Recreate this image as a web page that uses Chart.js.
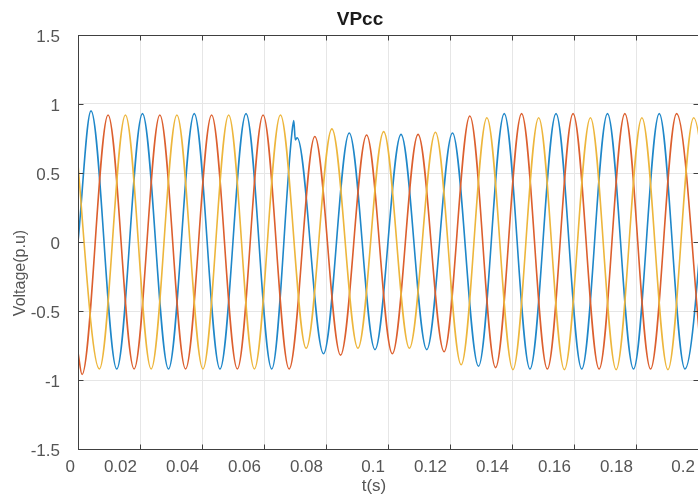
<!DOCTYPE html>
<html>
<head>
<meta charset="utf-8">
<script src="https://cdn.jsdelivr.net/npm/chart.js@4.4.1/dist/chart.umd.min.js"></script>
<style>
  html, body { margin: 0; padding: 0; background: #fff; overflow: hidden; }
  #wrap { width: 706px; height: 495px; }
</style>
</head>
<body>
<div id="wrap"><canvas id="vpcc" width="706" height="495"></canvas></div>
<script>
// axis ticks
const xTicks = [0, 0.02, 0.04, 0.06, 0.08, 0.1, 0.12, 0.14, 0.16, 0.18, 0.2];
const xTickLabels = ['0', '0.02', '0.04', '0.06', '0.08', '0.1', '0.12', '0.14', '0.16', '0.18', '0.2'];
const yTicks = [-1.5, -1, -0.5, 0, 0.5, 1, 1.5];
const yTickLabels = ['-1.5', '-1', '-0.5', '0', '0.5', '1', '1.5'];

// phase a (blue): start, peaks/troughs, spike at the fault
const tA = [0, 0.0042, 0.0125, 0.0208, 0.0292, 0.0375, 0.0458, 0.0542, 0.0625, 0.0690, 0.0696, 0.0701, 0.0707,
  0.0792, 0.0875, 0.0958, 0.1042, 0.1125, 0.1208, 0.1292, 0.1375, 0.1458, 0.1542, 0.1625, 0.1708,
  0.1792, 0.1875, 0.1958, 0.2042];
const vA = [0, 0.95, -0.92, 0.93, -0.92, 0.93, -0.92, 0.93, -0.92, 0.79, 0.88, 0.74, 0.755,
  -0.81, 0.79, -0.78, 0.78, -0.78, 0.79, -0.90, 0.93, -0.92, 0.93, -0.92, 0.93,
  -0.92, 0.93, -0.92, 0.93];

// phase b (orange)
const tB = [0, 0.0013, 0.0097, 0.0181, 0.0264, 0.0347, 0.0431, 0.0514, 0.0597, 0.0681, 0.0764, 0.0847,
  0.0931, 0.1014, 0.1097, 0.1181, 0.1264, 0.1347, 0.1431, 0.1514, 0.1597, 0.1681, 0.1764, 0.1847,
  0.1931, 0.2014];
const vB = [-0.80, -0.96, 0.92, -0.92, 0.92, -0.92, 0.92, -0.92, 0.92, -0.92, 0.765, -0.82,
  0.775, -0.81, 0.78, -0.795, 0.913, -0.91, 0.93, -0.92, 0.93, -0.92, 0.93, -0.92,
  0.93, -0.92];

// phase c (yellow)
const tC = [-0.0014, 0.0069, 0.0153, 0.0236, 0.0319, 0.0403, 0.0486, 0.0569, 0.0653, 0.0736, 0.0819,
  0.0903, 0.0986, 0.1069, 0.1153, 0.1236, 0.1319, 0.1403, 0.1486, 0.1569, 0.1653, 0.1736, 0.1819,
  0.1903, 0.1986, 0.2069];
const vC = [0.92, -0.92, 0.92, -0.92, 0.92, -0.92, 0.92, -0.92, 0.92, -0.77, 0.82,
  -0.77, 0.80, -0.77, 0.795, -0.89, 0.90, -0.925, 0.90, -0.925, 0.90, -0.925, 0.90,
  -0.925, 0.90, -0.925];

const toPoints = (ts, vs) => ts.map((t, i) => ({ x: t, y: vs[i] }));

const FONT = '"Liberation Sans", Arial, sans-serif';

// box, inward tick marks and the three text labels
const framePlugin = {
  id: 'frame',
  afterDraw(chart) {
    const { ctx, chartArea: a, scales } = chart;
    const L = Math.round(a.left) + 0.5, R = Math.round(a.right) + 0.5;
    const T = Math.round(a.top) + 0.5, B = Math.round(a.bottom) + 0.5;
    ctx.save();
    ctx.strokeStyle = '#404040';
    ctx.lineWidth = 1;
    ctx.strokeRect(L, T, R - L, B - T);
    ctx.beginPath();
    xTicks.forEach(v => {
      const x = Math.round(scales.x.getPixelForValue(v)) + 0.5;
      ctx.moveTo(x, B); ctx.lineTo(x, B - 5);
      ctx.moveTo(x, T); ctx.lineTo(x, T + 5);
    });
    yTicks.forEach(v => {
      const y = Math.round(scales.y.getPixelForValue(v)) + 0.5;
      ctx.moveTo(L, y); ctx.lineTo(L + 5, y);
      ctx.moveTo(R, y); ctx.lineTo(R - 5, y);
    });
    ctx.stroke();

    ctx.textAlign = 'center';
    ctx.textBaseline = 'middle';
    ctx.fillStyle = '#1a1a1a';
    ctx.font = 'bold 19px ' + FONT;
    ctx.fillText('VPcc', 360, 20);

    ctx.fillStyle = '#555';
    ctx.font = '17px ' + FONT;
    ctx.fillText('t(s)', 374, 486);

    ctx.translate(21, 273);
    ctx.rotate(-Math.PI / 2);
    ctx.font = '16px ' + FONT;
    ctx.fillText('Voltage(p.u)', 0, 0);
    ctx.restore();
  }
};

new Chart(document.getElementById('vpcc'), {
  type: 'line',
  data: {
    datasets: [
      { label: 'Va', data: toPoints(tA, vA), borderColor: '#1f87c9', order: 3 },
      { label: 'Vb', data: toPoints(tB, vB), borderColor: '#dc5f2e', order: 2 },
      { label: 'Vc', data: toPoints(tC, vC), borderColor: '#edb63c', order: 1 }
    ]
  },
  options: {
    responsive: false,
    animation: false,
    parsing: false,
    layout: { padding: { top: 35, right: 5, left: 0, bottom: 0 } },
    elements: {
      point: { radius: 0 },
      line: { borderWidth: 1.6, cubicInterpolationMode: 'monotone', fill: false }
    },
    plugins: {
      legend: { display: false },
      tooltip: { enabled: false },
      title: { display: false }
    },
    scales: {
      x: {
        type: 'linear',
        min: 0,
        max: 0.2,
        afterBuildTicks: axis => { axis.ticks = xTicks.map(v => ({ value: v })); },
        afterFit: axis => { axis.height = 46; },
        grid: { color: '#e6e6e6', drawTicks: false },
        border: { display: false },
        ticks: {
          align: 'end',
          labelOffset: -3,
          padding: 8,
          maxRotation: 0,
          autoSkip: false,
          color: '#555',
          font: { family: FONT, size: 17 },
          callback: (v, i) => xTickLabels[i]
        }
      },
      y: {
        type: 'linear',
        min: -1.5,
        max: 1.5,
        afterBuildTicks: axis => { axis.ticks = yTicks.map(v => ({ value: v })); },
        afterFit: axis => { axis.width = 78; },
        grid: { color: '#e6e6e6', drawTicks: false },
        border: { display: false },
        ticks: {
          padding: 18,
          labelOffset: 2,
          autoSkip: false,
          color: '#555',
          font: { family: FONT, size: 17 },
          callback: (v, i) => yTickLabels[i]
        }
      }
    }
  },
  plugins: [framePlugin]
});
</script>
</body>
</html>
